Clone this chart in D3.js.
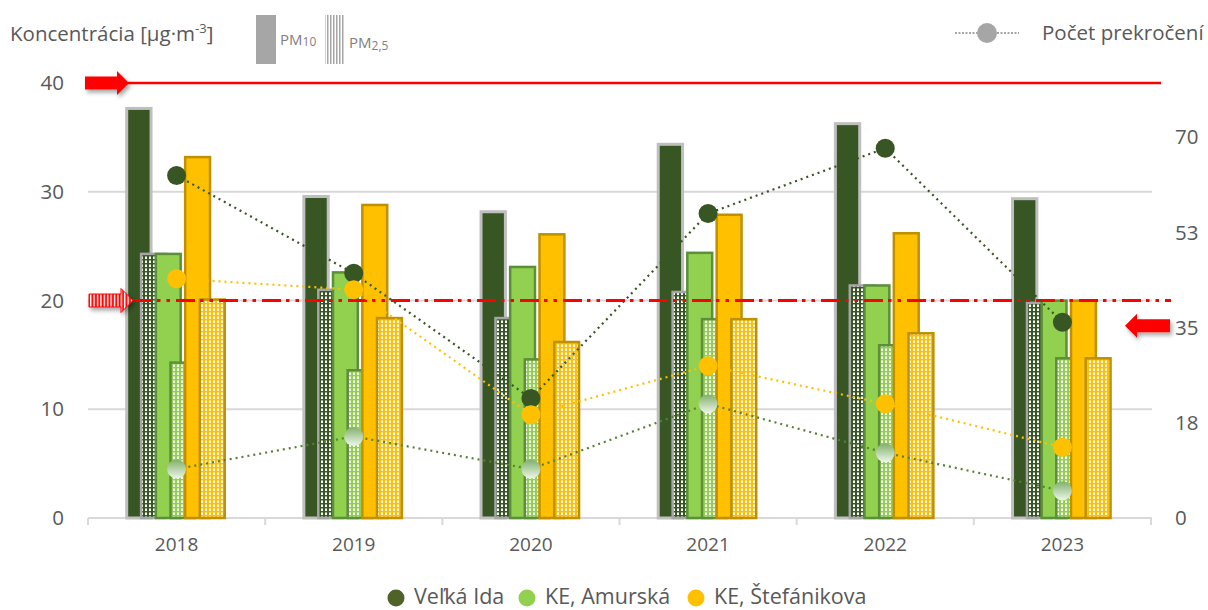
<!DOCTYPE html>
<html>
<head>
<meta charset="utf-8">
<script src="https://cdn.jsdelivr.net/npm/d3@7"></script>
<style>
  body { margin: 0; background: #fff; }
  svg { font-family: "Open Sans", sans-serif; }
</style>
</head>
<body>
<div id="container"></div>
<script>
const years = ['2018', '2019', '2020', '2021', '2022', '2023'];

// priemerne rocne koncentracie [µg/m3]
const pm10VelkaIda = [37.8, 29.7, 28.3, 34.5, 36.4, 29.5];
const pm25VelkaIda = [24.4, 21.1, 18.5, 20.9, 21.5, 19.9];
const pm10Amurska = [24.4, 22.7, 23.2, 24.5, 21.5, 20.1];
const pm25Amurska = [14.4, 13.7, 14.7, 18.4, 16.0, 14.8];
const pm10Stefanikova = [33.3, 28.9, 26.2, 28.0, 26.3, 20.1];
const pm25Stefanikova = [20.2, 18.5, 16.3, 18.4, 17.1, 14.8];

// pocet prekroceni dennej limitnej hodnoty PM10
const exceedVelkaIda = [63, 45, 22, 56, 68, 36];
const exceedAmurska = [9, 15, 9, 21, 12, 5];
const exceedStefanikova = [44, 42, 19, 28, 21, 13];

const leftTicks = [0, 10, 20, 30, 40];
const rightTicks = [0, 17.5, 35, 52.5, 70];
const stations = ['Veľká Ida', 'KE, Amurská', 'KE, Štefánikova'];

const limitPM10 = 40;
const limitPM25 = 20;
const limitDays = 35;

const w = 1208;
const h = 610;
const textColor = '#595959';

const svg = d3.select('#container')
    .append('svg')
    .attr('width', w)
    .attr('height', h);

const defs = svg.append('defs');

// vzorky pre PM2,5 stlpce
function dotPattern(id, color) {
  const p = defs.append('pattern')
      .attr('id', id)
      .attr('patternUnits', 'userSpaceOnUse')
      .attr('width', 4)
      .attr('height', 4);
  p.append('rect').attr('width', 4).attr('height', 4).attr('fill', color);
  p.append('rect').attr('x', 1).attr('y', 0.5).attr('width', 2).attr('height', 2.5).attr('fill', '#fff');
}
dotPattern('dotVI', '#375623');
dotPattern('dotAM', '#92D050');
dotPattern('dotST', '#FFC000');

const legendStripe = defs.append('pattern')
    .attr('id', 'legendStripe')
    .attr('patternUnits', 'userSpaceOnUse')
    .attr('width', 3)
    .attr('height', 4);
legendStripe.append('rect').attr('width', 3).attr('height', 4).attr('fill', '#fff');
legendStripe.append('rect').attr('width', 1.5).attr('height', 4).attr('fill', '#A6A6A6');

const arrowStripe = defs.append('pattern')
    .attr('id', 'arrowStripe')
    .attr('patternUnits', 'userSpaceOnUse')
    .attr('width', 3.4)
    .attr('height', 4);
arrowStripe.append('rect').attr('width', 3.4).attr('height', 4).attr('fill', '#FF0000');
arrowStripe.append('rect').attr('x', 1.6).attr('width', 1.4).attr('height', 4).attr('fill', '#fff');

const grad = defs.append('linearGradient')
    .attr('id', 'amGrad')
    .attr('x1', 0).attr('y1', 0).attr('x2', 0).attr('y2', 1);
grad.append('stop').attr('offset', '0%').attr('stop-color', '#7FB06A');
grad.append('stop').attr('offset', '100%').attr('stop-color', '#EEF6EA');

const shadow = defs.append('filter')
    .attr('id', 'shadow')
    .attr('x', '-30%').attr('y', '-50%').attr('width', '160%').attr('height', '200%');
shadow.append('feDropShadow')
    .attr('dx', 2).attr('dy', 3).attr('stdDeviation', 2)
    .attr('flood-color', '#000').attr('flood-opacity', 0.35);

// skaly
const x = d3.scaleBand()
    .domain(years)
    .range([88, 1151])
    .paddingInner(0.42)
    .paddingOuter(0.21);

const slot = d3.scaleBand()
    .domain(d3.range(7))
    .range([0, x.bandwidth()]);

const y = d3.scaleLinear().domain([0, 40]).range([518, 83]);
const yR = d3.scaleLinear().domain([0, 80]).range([518, 83]);

const xLeft = 88;
const xRight = 1152;

// mriezka
svg.append('g')
    .selectAll('line')
    .data(leftTicks.slice(1))
    .enter()
    .append('line')
    .attr('x1', xLeft)
    .attr('x2', xRight)
    .attr('y1', d => y(d))
    .attr('y2', d => y(d))
    .attr('stroke', '#D9D9D9')
    .attr('stroke-width', 2);

// os x
svg.append('line')
    .attr('x1', xLeft).attr('x2', xRight)
    .attr('y1', y(0)).attr('y2', y(0))
    .attr('stroke', '#D9D9D9')
    .attr('stroke-width', 2);

const step = x.step();
svg.append('g')
    .selectAll('line')
    .data(d3.range(years.length + 1))
    .enter()
    .append('line')
    .attr('x1', i => x(years[0]) - x.paddingOuter() * step + i * step)
    .attr('x2', i => x(years[0]) - x.paddingOuter() * step + i * step)
    .attr('y1', y(0))
    .attr('y2', y(0) + 7)
    .attr('stroke', '#D9D9D9')
    .attr('stroke-width', 2);

const axisX = d3.axisBottom(x).tickSize(0).tickPadding(20);
svg.append('g')
    .attr('transform', `translate(0,${y(0)})`)
    .call(axisX)
    .call(g => g.select('.domain').remove())
    .call(g => g.selectAll('text')
        .attr('fill', textColor)
        .attr('font-size', 19)
        .attr('font-family', '"Open Sans", sans-serif'));

const axisY = d3.axisLeft(y).tickValues(leftTicks).tickSize(0).tickPadding(0);
svg.append('g')
    .attr('transform', 'translate(64,0)')
    .call(axisY)
    .call(g => g.select('.domain').remove())
    .call(g => g.selectAll('text')
        .attr('fill', textColor)
        .attr('font-size', 20.5)
        .attr('font-family', '"Open Sans", sans-serif'));

const axisYR = d3.axisRight(yR).tickValues(rightTicks).tickFormat(d3.format('.0f')).tickSize(0).tickPadding(0);
svg.append('g')
    .attr('transform', 'translate(1175,0)')
    .call(axisYR)
    .call(g => g.select('.domain').remove())
    .call(g => g.selectAll('text')
        .attr('fill', textColor)
        .attr('font-size', 20.5)
        .attr('font-family', '"Open Sans", sans-serif'));

// stlpce
const barSeries = [
  { values: pm10VelkaIda, slot: 0, fill: '#375623', stroke: '#BFBFBF', sw: 3 },
  { values: pm25VelkaIda, slot: 1, fill: 'url(#dotVI)', stroke: '#A6A6A6', sw: 2.5 },
  { values: pm10Amurska, slot: 2, fill: '#92D050', stroke: '#5B8F3A', sw: 2.5 },
  { values: pm25Amurska, slot: 3, fill: 'url(#dotAM)', stroke: '#5B8F3A', sw: 2.5 },
  { values: pm10Stefanikova, slot: 4, fill: '#FFC000', stroke: '#BF9000', sw: 2.5 },
  { values: pm25Stefanikova, slot: 5, fill: 'url(#dotST)', stroke: '#BF9000', sw: 2.5 }
];

const barW = slot.step() * 2 - 2;

barSeries.forEach(s => {
  svg.append('g')
      .selectAll('rect')
      .data(s.values)
      .enter()
      .append('rect')
      .attr('x', (d, i) => x(years[i]) + slot(s.slot) + s.sw / 2)
      .attr('y', d => y(d) + s.sw / 2)
      .attr('width', barW - s.sw)
      .attr('height', d => y(0) - y(d) - s.sw / 2)
      .attr('fill', s.fill)
      .attr('stroke', s.stroke)
      .attr('stroke-width', s.sw);
});

// limitne hodnoty
svg.append('line')
    .attr('x1', 128).attr('x2', 1161)
    .attr('y1', y(limitPM10)).attr('y2', y(limitPM10))
    .attr('stroke', '#FF0000')
    .attr('stroke-width', 2.5);

svg.append('line')
    .attr('x1', 133).attr('x2', 1171)
    .attr('y1', y(limitPM25)).attr('y2', y(limitPM25))
    .attr('stroke', '#FF0000')
    .attr('stroke-width', 3)
    .attr('stroke-dasharray', '19,5,3.5,6,3.5,6');

function arrow(tail, tip, yc) {
  const dir = tip > tail ? 1 : -1;
  const headL = 12;
  const shaft = 6.5;
  const head = 12;
  const xh = tip - dir * headL;
  return `M${tail},${yc - shaft}L${xh},${yc - shaft}L${xh},${yc - head}L${tip},${yc}` +
         `L${xh},${yc + head}L${xh},${yc + shaft}L${tail},${yc + shaft}Z`;
}

svg.append('path')
    .attr('d', arrow(85, 129, y(limitPM10)))
    .attr('fill', '#FF0000')
    .attr('filter', 'url(#shadow)');

svg.append('path')
    .attr('d', arrow(89, 133, y(limitPM25)))
    .attr('fill', 'url(#arrowStripe)')
    .attr('stroke', '#FF0000')
    .attr('stroke-width', 1)
    .attr('filter', 'url(#shadow)');

svg.append('path')
    .attr('d', arrow(1170, 1125, yR(limitDays) - 2))
    .attr('fill', '#FF0000')
    .attr('filter', 'url(#shadow)');

// pocet prekroceni
const cx = (d, i) => x(years[i]) + x.bandwidth() / 2;
const line = d3.line().x(cx).y(d => yR(d));

const pointSeries = [
  { values: exceedVelkaIda, line: '#375623', fill: '#375623' },
  { values: exceedAmurska, line: '#548235', fill: 'url(#amGrad)' },
  { values: exceedStefanikova, line: '#FFC000', fill: '#FFC000' }
];

pointSeries.forEach(s => {
  svg.append('path')
      .datum(s.values)
      .attr('d', line)
      .attr('fill', 'none')
      .attr('stroke', s.line)
      .attr('stroke-width', 2.2)
      .attr('stroke-dasharray', '2,4');
});

pointSeries.forEach(s => {
  svg.append('g')
      .selectAll('circle')
      .data(s.values)
      .enter()
      .append('circle')
      .attr('cx', cx)
      .attr('cy', d => yR(d))
      .attr('r', 9.5)
      .attr('fill', s.fill);
});

// legenda hore
svg.append('text')
    .attr('x', 10)
    .attr('y', 41)
    .attr('fill', textColor)
    .attr('font-size', 20.5)
    .text('Koncentrácia [µg·m')
    .append('tspan')
    .attr('dy', -8)
    .attr('font-size', 13)
    .text('-3')
    .append('tspan')
    .attr('dy', 8)
    .attr('font-size', 20.5)
    .text(']');

svg.append('rect')
    .attr('x', 256).attr('y', 15)
    .attr('width', 20).attr('height', 49)
    .attr('fill', '#A6A6A6');

const pm10 = svg.append('text')
    .attr('x', 280).attr('y', 45)
    .attr('fill', '#7F7F7F')
    .attr('font-size', 15)
    .text('PM');
pm10.append('tspan').attr('font-size', 12).attr('dy', 1).text('10');

svg.append('rect')
    .attr('x', 325).attr('y', 15)
    .attr('width', 20).attr('height', 49)
    .attr('fill', 'url(#legendStripe)');

const pm25 = svg.append('text')
    .attr('x', 349).attr('y', 48)
    .attr('fill', '#7F7F7F')
    .attr('font-size', 15)
    .text('PM');
pm25.append('tspan').attr('font-size', 12).attr('dy', 2).text('2,5');

svg.append('line')
    .attr('x1', 955).attr('x2', 1019)
    .attr('y1', 33).attr('y2', 33)
    .attr('stroke', '#A6A6A6')
    .attr('stroke-width', 2.2)
    .attr('stroke-dasharray', '2,1.5');
svg.append('circle')
    .attr('cx', 987).attr('cy', 33).attr('r', 10)
    .attr('fill', '#A6A6A6');
svg.append('text')
    .attr('x', 1042).attr('y', 40)
    .attr('fill', textColor)
    .attr('font-size', 20.5)
    .text('Počet prekročení');

// legenda dole
const legendColors = ['#4F6228', '#92D050', '#FFC000'];
const legendX = [396, 527, 696];
const legend = svg.append('g');
stations.forEach((name, i) => {
  legend.append('circle')
      .attr('cx', legendX[i]).attr('cy', 598).attr('r', 8.5)
      .attr('fill', legendColors[i]);
  legend.append('text')
      .attr('x', legendX[i] + 18).attr('y', 604)
      .attr('fill', textColor)
      .attr('font-size', 21.5)
      .text(name);
});
</script>
</body>
</html>
